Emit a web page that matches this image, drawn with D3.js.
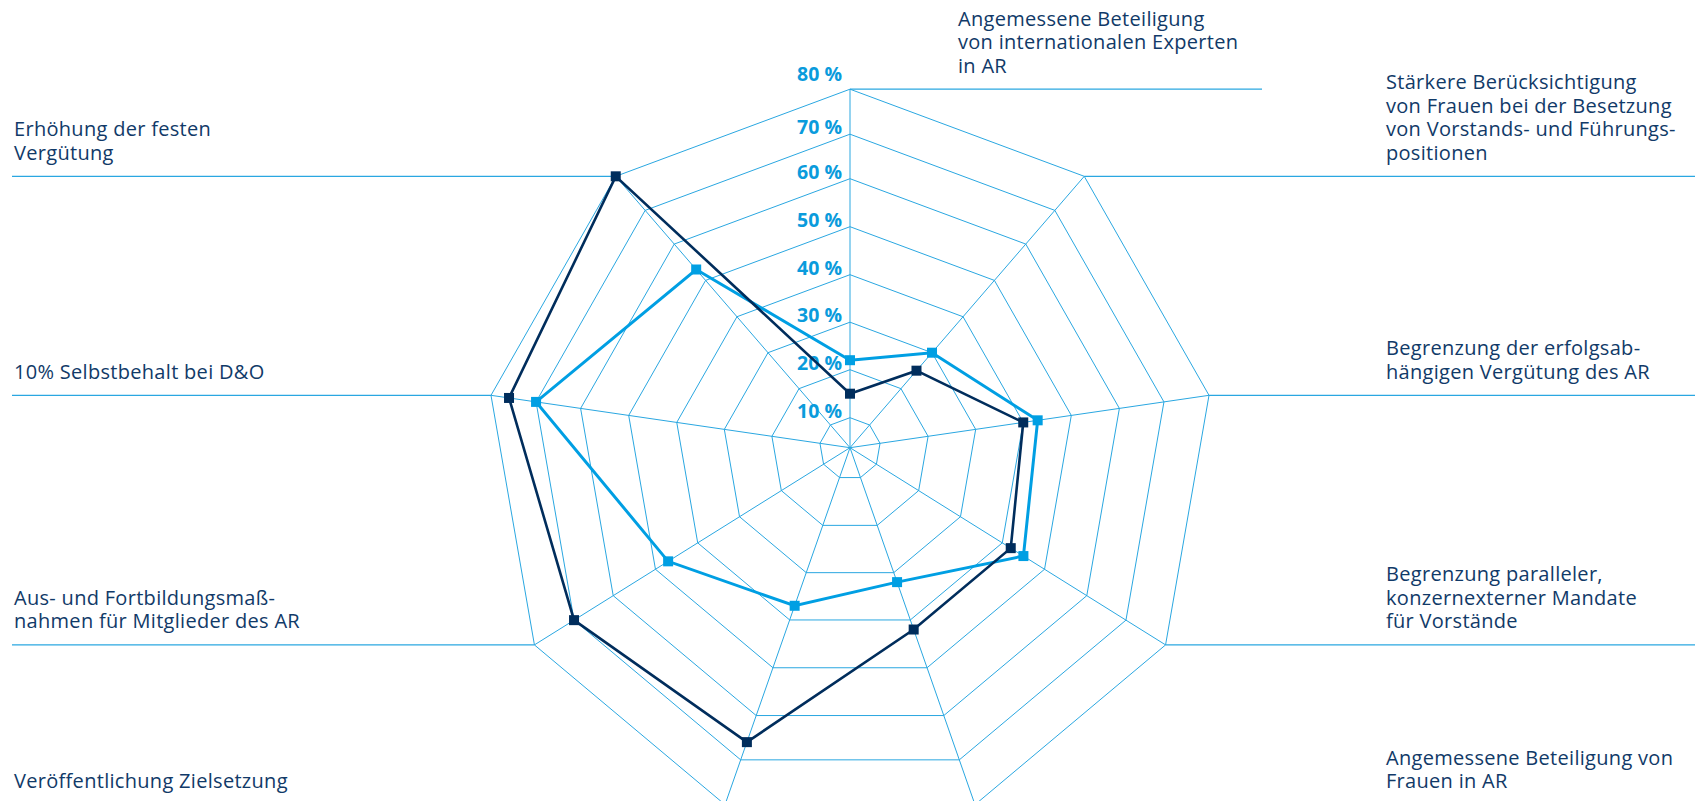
<!DOCTYPE html>
<html lang="de">
<head>
<meta charset="utf-8">
<title>Corporate-Governance-Themen</title>
<script src="https://cdn.jsdelivr.net/npm/d3@7/dist/d3.min.js"></script>
<style>
  html, body { margin: 0; padding: 0; background: #ffffff; }
  svg { display: block; }
  .cat { font-family: "Open Sans", "Noto Sans", sans-serif; font-size: 20px; letter-spacing: 0.3px; fill: #113a68; }
  .tick { font-family: "Open Sans", "Noto Sans", sans-serif; font-size: 19.5px; font-weight: 700; fill: #0a9bdc; }
</style>
</head>
<body>
<svg id="chart" width="1695" height="801"></svg>
<script>
// Categories, clockwise from the top axis (each entry = wrapped label lines)
const categories = [
  ["Angemessene Beteiligung", "von internationalen Experten", "in AR"],
  ["Stärkere Berücksichtigung", "von Frauen bei der Besetzung", "von Vorstands- und Führungs-", "positionen"],
  ["Begrenzung der erfolgsab-", "hängigen Vergütung des AR"],
  ["Begrenzung paralleler,", "konzernexterner Mandate", "für Vorstände"],
  ["Angemessene Beteiligung von", "Frauen in AR"],
  ["Veröffentlichung Zielsetzung"],
  ["Aus- und Fortbildungsmaß-", "nahmen für Mitglieder des AR"],
  ["10% Selbstbehalt bei D&O"],
  ["Erhöhung der festen", "Vergütung"]
];

// Shares in percent, same order as categories
const valuesLight = [22, 30, 43, 45, 32, 37, 47, 70, 53];
const valuesDark  = [15, 25, 40, 42, 42, 66, 70, 76, 80];

// Ring values and their labels
const tickValues = [10, 20, 30, 40, 50, 60, 70, 80];
const tickLabels = ["10 %", "20 %", "30 %", "40 %", "50 %", "60 %", "70 %", "80 %"];

// ---- layout ----
const W = 1695, H = 801;
const cx = 850, cy = 447.7;
// axis directions in degrees, clockwise from north, and per-axis radial stretch
const axisAngle = [0, 40.8, 81.7, 122, 160.7, 199.3, 238, 278.3, 319.2];
const axisStretch = [1, 1.0, 1.012, 1.038, 1.055, 1.055, 1.038, 1.012, 1.0];

const colLight = "#009fe3";
const colDark = "#002d5c";
const colGrid = "#2aa7e1";

const svg = d3.select("#chart");

// radial scale (polylinear, following the ring spacing of the web)
const r = d3.scaleLinear()
  .domain([0, 10, 20, 30, 40, 50, 60, 70, 80])
  .range([0, 30, 78, 125.5, 173, 221, 269, 313.5, 358.5]);

function pt(i, v) {
  const a = axisAngle[i] * Math.PI / 180;
  const rr = r(v) * axisStretch[i];
  return [cx + rr * Math.sin(a), cy - rr * Math.cos(a)];
}

const n = categories.length;
const idx = d3.range(n);
const maxV = tickValues[tickValues.length - 1];

const grid = svg.append("g").attr("fill", "none").attr("stroke", colGrid).attr("stroke-width", 1);

// rings
grid.selectAll("path.ring")
  .data(tickValues)
  .join("path")
  .attr("class", "ring")
  .attr("d", v => d3.line()(idx.map(i => pt(i, v))) + "Z");

// spokes
grid.selectAll("line.spoke")
  .data(idx)
  .join("line")
  .attr("class", "spoke")
  .attr("x1", cx).attr("y1", cy)
  .attr("x2", i => pt(i, maxV)[0])
  .attr("y2", i => pt(i, maxV)[1]);

// category labels with leader lines
const lineH = 23.6, gap = 16.5;
const labels = svg.append("g");
idx.forEach(i => {
  const [vx, vy] = pt(i, maxV);
  let x1, x2, tx;
  if (i === 0) { x1 = vx; x2 = 1262; tx = 958; }
  else if (axisAngle[i] < 180) { x1 = vx; x2 = W; tx = 1386; }
  else { x1 = 12; x2 = vx; tx = 14; }
  labels.append("line")
    .attr("x1", x1).attr("x2", x2)
    .attr("y1", vy).attr("y2", vy)
    .attr("stroke", colGrid).attr("stroke-width", 1.2);
  const lines = categories[i];
  const t = labels.append("text").attr("class", "cat");
  lines.forEach((s, k) => {
    t.append("tspan")
      .attr("x", tx)
      .attr("y", vy - gap - (lines.length - 1 - k) * lineH)
      .text(s);
  });
});

// ring value labels along the top axis
svg.append("g").selectAll("text")
  .data(tickValues)
  .join("text")
  .attr("class", "tick")
  .attr("text-anchor", "end")
  .attr("x", cx - 8)
  .attr("y", v => cy - r(v) - (v === maxV ? 8 : 0))
  .text((v, k) => tickLabels[k]);

// series
function drawSeries(values, color, width, size) {
  const g = svg.append("g");
  const pts = values.map((v, i) => pt(i, v));
  g.append("path")
    .attr("d", d3.line()(pts) + "Z")
    .attr("fill", "none")
    .attr("stroke", color)
    .attr("stroke-width", width)
    .attr("stroke-linejoin", "miter");
  g.selectAll("rect")
    .data(pts)
    .join("rect")
    .attr("x", d => d[0] - size / 2)
    .attr("y", d => d[1] - size / 2)
    .attr("width", size).attr("height", size)
    .attr("fill", color);
}
drawSeries(valuesLight, colLight, 3, 10);
drawSeries(valuesDark, colDark, 2.6, 10);
</script>
</body>
</html>
